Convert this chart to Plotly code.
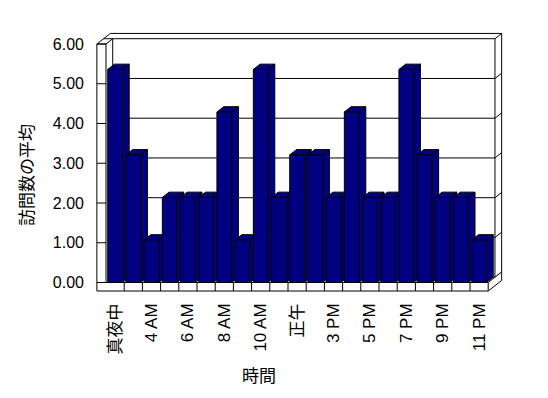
import plotly.graph_objects as go

# ---- data ----
hours = ["真夜中", "3 AM", "4 AM", "5 AM", "6 AM", "7 AM", "8 AM", "9 AM", "10 AM", "11 AM",
         "正午", "2 PM", "3 PM", "4 PM", "5 PM", "6 PM", "7 PM", "8 PM", "9 PM", "10 PM", "11 PM"]
visits = [5.36, 3.21, 1.07, 2.14, 2.14, 2.14, 4.29, 1.07, 5.36, 2.14,
          3.21, 3.21, 2.14, 4.29, 2.14, 2.14, 5.36, 3.21, 2.14, 2.14, 1.07]
shown_idx = list(range(0, len(hours), 2))
shown_labels = [hours[i] for i in shown_idx]
y_ticks = [0, 1, 2, 3, 4, 5, 6]
y_labels = ["%.2f" % v for v in y_ticks]

# ---- styling / geometry (axis units) ----
N = len(hours)
W = 0.81          # bar front width
DX = 0.37         # depth offset in x units
DY = 0.133        # depth offset in y units
YB = -0.214       # floor slab bottom
XR = (N - 1) + 0.5  # right end of floor
XRANGE = [-1.159, 21.368]
YRANGE = [-0.3396, 6.478]
NAVY = "#000080"
FONT = "Liberation Sans, Noto Sans CJK JP, sans-serif"

fig = go.Figure()

# 3D faces (top and side) for each bar
fx, fy = [], []
for i, v in enumerate(visits):
    l, r = i - W / 2, i + W / 2
    fx += [l, r, r + DX, l + DX, l, None]
    fy += [v, v, v + DY, v + DY, v, None]
    fx += [r, r + DX, r + DX, r, r, None]
    fy += [0, DY, v + DY, v, 0, None]
fig.add_trace(go.Scatter(x=fx, y=fy, mode="lines", fill="toself", fillcolor=NAVY,
                         line=dict(color="black", width=1), hoverinfo="skip",
                         showlegend=False))

# front faces
fig.add_trace(go.Bar(x=list(range(N)), y=visits, width=W,
                     marker=dict(color=NAVY, line=dict(color="black", width=1)),
                     xaxis="x2", yaxis="y2", showlegend=False, hoverinfo="skip"))

shapes = []
def line(x0, y0, x1, y1):
    shapes.append(dict(type="line", xref="x", yref="y", x0=x0, y0=y0, x1=x1, y1=y1,
                       line=dict(color="black", width=1), layer="below"))

# back wall gridlines + right wall edge ticks
for v in y_ticks:
    line(-0.5 + DX, v + DY, XR + DX, v + DY)
    line(XR + DX, v + DY, XR + 2 * DX, v + 2 * DY)
# inner top line extended over left wall top
line(-1 + DX, 6 + DY, -0.5 + DX, 6 + DY)
# back wall inner verticals
line(-0.5 + DX, DY, -0.5 + DX, 6 + DY)
line(XR + DX, DY, XR + DX, 6 + DY)
# outer top and outer right
line(-1 + 2 * DX, 6 + 2 * DY, XR + 2 * DX, 6 + 2 * DY)
line(XR + 2 * DX, YB + 2 * DY, XR + 2 * DX, 6 + 2 * DY)
# left wall top diagonals
line(-1, 6, -1 + 2 * DX, 6 + 2 * DY)
line(-0.5, 6, -0.5 + DX, 6 + DY)
# left wall front face
shapes.append(dict(type="rect", xref="x", yref="y", x0=-1, x1=-0.5, y0=0, y1=6,
                   line=dict(color="black", width=1), fillcolor="white", layer="below"))
for v in y_ticks:
    line(-1, v, -0.5, v)
# floor slab front face
shapes.append(dict(type="rect", xref="x", yref="y", x0=-1, x1=XR, y0=YB, y1=0,
                   line=dict(color="black", width=1), fillcolor="white", layer="below"))
for k in range(N - 1):
    line(k + 0.5, YB, k + 0.5, 0)
# floor right side
line(XR, YB, XR + 2 * DX, YB + 2 * DY)
line(XR, 0, XR + DX, DY)

fig.update_layout(
    width=548, height=398,
    margin=dict(l=94, r=44, t=25, b=102, autoexpand=False),
    paper_bgcolor="white", plot_bgcolor="white",
    shapes=shapes,
    showlegend=False,
    xaxis=dict(range=XRANGE, tickmode="array", tickvals=shown_idx, ticktext=shown_labels,
               tickangle=-90, showgrid=False, zeroline=False, showline=False, ticks="",
               ticklabelstandoff=3,
               tickfont=dict(family=FONT, size=17, color="black"), automargin=False),
    yaxis=dict(range=YRANGE, tickmode="array", tickvals=y_ticks, ticktext=y_labels,
               showgrid=False, zeroline=False, showline=False, ticks="",
               ticklabelstandoff=9,
               tickfont=dict(family=FONT, size=16, color="black"), automargin=False),
    xaxis2=dict(range=XRANGE, overlaying="x", anchor="y2", visible=False),
    yaxis2=dict(range=YRANGE, overlaying="y", anchor="x2", visible=False),
    annotations=[
        dict(text="訪問数の平均", textangle=-90, xref="paper", yref="paper",
             x=(27 - 94) / 410, y=(296 - 175) / 271, xanchor="center", yanchor="middle",
             showarrow=False, font=dict(family=FONT, size=17, color="black")),
        dict(text="時間", xref="paper", yref="paper",
             x=(259 - 94) / 410, y=(296 - 376) / 271, xanchor="center", yanchor="middle",
             showarrow=False, font=dict(family=FONT, size=17, color="black")),
    ],
)

fig.write_html("out.html")
